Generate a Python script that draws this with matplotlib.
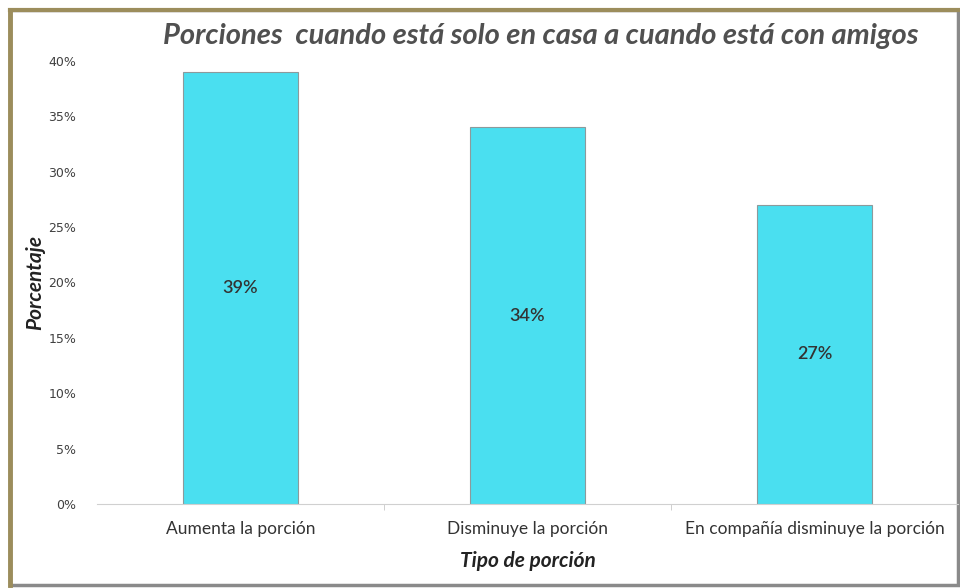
import matplotlib.pyplot as plt
from matplotlib.patches import Rectangle
from matplotlib.lines import Line2D

categorias = ['Aumenta la porción', 'Disminuye la porción', 'En compañía disminuye la porción']
porcentajes = [39, 34, 27]
etiquetas_y = ['0%', '5%', '10%', '15%', '20%', '25%', '30%', '35%', '40%']

plt.rcParams['font.family'] = ['Lato', 'DejaVu Sans']

fig = plt.figure(figsize=(9.6, 5.88), dpi=100)
W, H = 960, 588

# marco del gráfico
fig.add_artist(Rectangle((10 / W, 3 / H), 948 / W, 575 / H, transform=fig.transFigure,
                         facecolor='white', edgecolor='#8a8a8a', linewidth=2.5, zorder=0))
fig.add_artist(Line2D([10 / W, 958 / W], [1 - 10 / H, 1 - 10 / H], transform=fig.transFigure,
                      color='#9c8d5c', linewidth=3))
fig.add_artist(Line2D([10 / W, 10 / W], [3 / H, 1 - 10 / H], transform=fig.transFigure,
                      color='#9c8d5c', linewidth=3.5))

ax = fig.add_axes([97 / W, 1 - 504 / H, 861 / W, 443 / H])
ax.set_facecolor('none')

x = range(len(categorias))
barras = ax.bar(x, porcentajes, width=0.4, color='#4adff0', edgecolor='#8c9a9c', linewidth=0.8)
for b, v in zip(barras, porcentajes):
    ax.text(b.get_x() + b.get_width() / 2, v / 2, f'{v}%', ha='center', va='center',
            fontsize=13, fontweight='semibold', color='#333333')

ax.set_xlim(-0.5, len(categorias) - 0.5)
ax.set_ylim(0, 40)
ax.set_yticks(range(0, 41, 5))
ax.set_yticklabels(etiquetas_y, fontsize=9, color='#404040', family='DejaVu Sans')
ax.set_xticks(list(x))
ax.set_xticklabels(categorias, fontsize=12.5, color='#333333')
ax.tick_params(axis='y', length=0, pad=15)
ax.tick_params(axis='x', length=0, pad=12)

# marcas entre categorías
ax.set_xticks([0.5, 1.5], minor=True)
ax.tick_params(axis='x', which='minor', length=4, color='#c8c8c8')

for s in ['top', 'right', 'left']:
    ax.spines[s].set_visible(False)
ax.spines['bottom'].set_color('#d0d0d0')

ax.set_ylabel('Porcentaje', fontsize=15, fontweight='bold', fontstyle='italic', color='#222222', labelpad=2)
ax.set_xlabel('Tipo de porción', fontsize=15, fontweight='bold', fontstyle='italic', color='#222222', labelpad=10)

fig.text(541 / W, 1 - 36 / H, 'Porciones  cuando está solo en casa a cuando está con amigos',
         ha='center', va='center', fontsize=21, fontweight='bold', fontstyle='italic', color='#505050')

fig.savefig('out.png', dpi=100)
